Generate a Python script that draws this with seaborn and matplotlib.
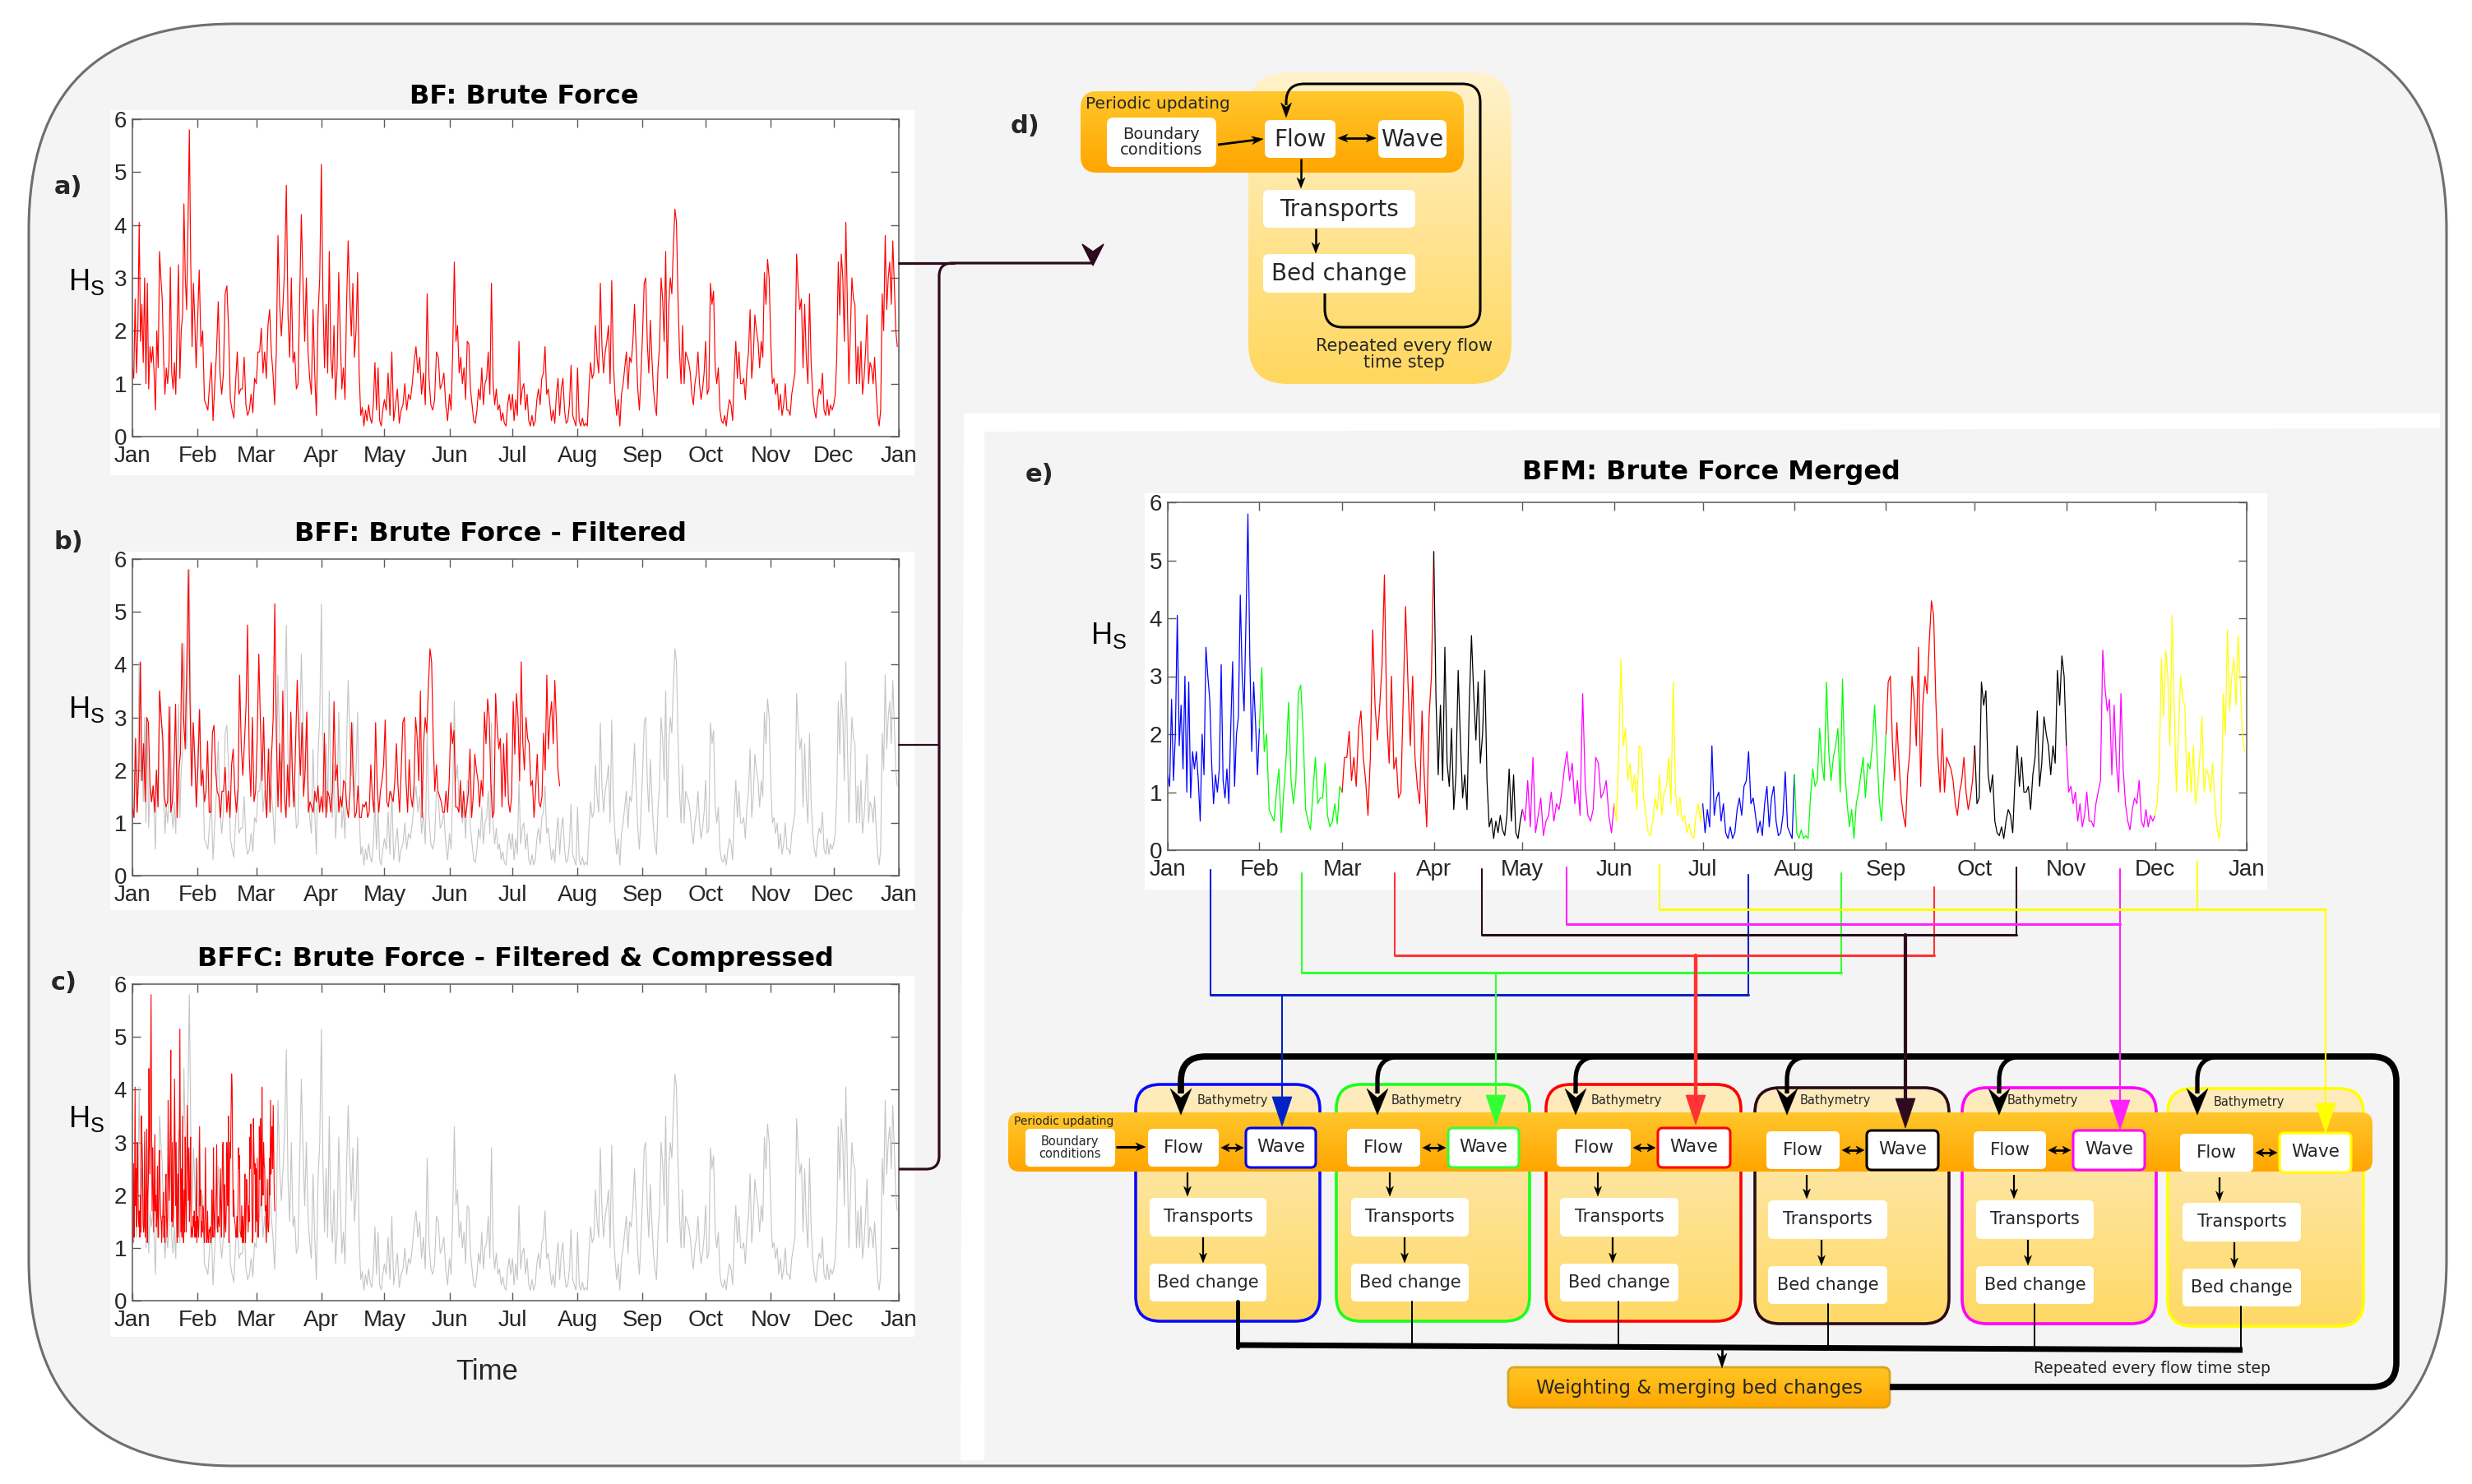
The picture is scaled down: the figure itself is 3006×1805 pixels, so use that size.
import numpy as np
import pandas as pd
import matplotlib
matplotlib.use("Agg")
import matplotlib.pyplot as plt
import seaborn as sns
from matplotlib.patches import FancyBboxPatch, Rectangle, Polygon, PathPatch
from matplotlib.path import Path
from matplotlib.colors import LinearSegmentedColormap
from matplotlib import font_manager

# ---------------- data ----------------
month_labels = ["Jan", "Feb", "Mar", "Apr", "May", "Jun", "Jul", "Aug", "Sep", "Oct", "Nov", "Dec", "Jan"]
month_start = [0, 31, 59, 90, 120, 151, 181, 212, 243, 273, 304, 334, 365]

hs_jan = [1.3, 1.1, 2.6, 1.2, 2.0, 4.05, 1.8, 2.5, 1.4, 3.0, 1.0, 2.9, 0.9, 1.7, 1.4, 1.7, 1.2, 0.5, 2.0, 1.3,
          3.5, 3.0, 2.6, 1.5, 0.8, 1.3, 1.0, 1.4, 3.2, 1.2, 0.9, 1.4, 0.8, 2.1, 3.25, 1.1, 2.0, 2.3, 4.4, 3.0,
          2.4, 4.0, 5.8, 3.3, 1.7, 2.9, 2.2, 1.3]
hs_feb = [2.1, 3.15, 1.7, 2.0, 0.7, 0.6, 0.5, 1.0, 1.4, 0.3, 1.0, 1.6, 2.55, 1.2, 0.8, 1.2, 2.7, 2.85, 2.0, 0.7,
          0.5, 0.35, 1.0, 1.6, 0.8, 0.9, 0.9, 1.5, 0.6, 0.4, 0.5, 0.8, 0.45, 1.1]
hs_mar = [1.0, 1.6, 1.6, 2.05, 1.2, 1.6, 1.1, 2.1, 2.4, 1.6, 1.2, 0.6, 1.6, 3.8, 2.5, 1.9, 2.5, 3.2, 4.75, 2.3,
          1.5, 3.0, 1.4, 1.6, 0.9, 1.0, 2.6, 4.2, 2.9, 1.8, 3.0, 1.6, 1.1, 0.8, 2.4, 1.2, 0.4, 2.3, 3.0]
hs_apr = [5.15, 2.6, 1.3, 2.5, 1.2, 3.5, 1.5, 1.1, 2.1, 0.7, 1.3, 3.1, 1.9, 0.9, 1.3, 0.7, 2.5, 3.7, 2.7, 1.9,
          2.9, 1.5, 2.0, 3.1, 1.2, 0.4, 0.55, 0.2, 0.5, 0.3, 0.6, 0.35, 0.25, 0.6, 1.4, 0.5, 1.3, 0.3, 0.2, 0.5]
hs_may = [0.7, 0.5, 1.2, 0.4, 1.6, 0.3, 0.6, 0.9, 0.25, 0.5, 0.6, 1.0, 0.5, 0.8, 0.7, 1.0, 1.4, 1.7, 1.2, 1.5,
          0.8, 1.2, 0.6, 2.7, 1.1, 0.6, 0.5, 0.7, 1.6, 1.5, 0.9, 1.0, 1.2, 0.6, 0.3]
hs_jun = [0.8, 0.5, 1.6, 3.3, 1.8, 2.1, 1.2, 1.5, 1.0, 1.3, 0.7, 1.8, 1.75, 0.9, 0.6, 0.3, 0.25, 0.5, 0.9, 0.7,
          1.3, 0.6, 1.0, 1.1, 1.6, 0.8, 2.9, 1.0, 0.6, 0.9, 0.5, 0.6, 0.3, 0.45, 0.25, 0.2, 0.6, 0.8, 0.5]
hs_jul = [0.8, 0.3, 0.7, 0.4, 1.8, 0.6, 0.9, 1.0, 0.5, 0.8, 0.3, 0.2, 0.4, 0.2, 0.3, 0.7, 0.9, 0.6, 1.1, 1.2,
          1.7, 0.8, 0.9, 0.6, 0.3, 0.5, 0.25, 0.8, 1.1, 0.4, 0.9, 1.1, 0.5, 0.25, 0.3, 0.6, 1.35, 0.4, 0.3, 0.2]
hs_aug = [1.3, 0.3, 0.2, 0.35, 0.2, 0.25, 0.2, 0.9, 1.4, 1.1, 1.2, 2.1, 1.5, 1.2, 2.9, 1.7, 1.2, 1.6, 1.8, 2.1,
          1.0, 2.95, 1.4, 0.8, 0.4, 0.7, 0.2, 0.8, 1.0, 1.3, 1.6, 0.9, 1.5, 1.4, 1.8, 2.5, 1.7, 0.9, 0.5, 1.2]
hs_sep = [2.0, 2.9, 3.0, 1.8, 1.2, 2.2, 1.5, 0.9, 0.6, 0.4, 1.3, 1.7, 3.0, 2.6, 1.8, 3.5, 1.1, 2.5, 3.0, 2.7,
          3.6, 4.3, 4.05, 2.6, 1.6, 1.0, 2.1, 1.0, 1.6, 1.5, 1.4, 1.2, 0.8, 0.6, 1.0, 1.2, 1.6, 1.0, 0.7, 0.9, 1.2]
hs_oct = [1.8, 0.8, 0.9, 2.9, 2.5, 2.75, 1.3, 1.0, 1.3, 0.5, 0.3, 0.25, 0.4, 0.2, 0.5, 0.7, 0.6, 0.3, 1.2, 1.8,
          1.1, 1.6, 1.0, 1.0, 1.1, 0.7, 1.3, 1.6, 2.4, 1.1, 1.5, 2.3, 2.0, 1.8, 1.3, 1.8, 1.5, 3.1, 2.5, 3.35, 3.0]
hs_nov = [1.8, 1.0, 1.1, 0.8, 1.0, 0.5, 0.8, 0.4, 0.6, 1.0, 0.5, 0.5, 0.4, 0.8, 1.0, 1.2, 3.45, 2.8, 2.4, 2.6,
          1.3, 2.5, 1.5, 1.0, 2.7, 1.4, 0.8, 0.5, 0.35, 0.7, 0.9, 0.8, 1.2, 0.5, 0.4, 0.7, 0.4, 0.6, 0.5]
hs_dec = [0.6, 0.8, 1.5, 3.3, 2.3, 3.45, 3.0, 1.8, 4.05, 2.5, 1.0, 2.0, 3.0, 2.6, 2.5, 1.0, 1.7, 1.0, 1.8, 0.8,
          1.1, 1.6, 2.3, 1.0, 1.4, 1.3, 1.0, 1.5, 0.9, 0.4, 0.2, 0.5, 2.7, 2.0, 3.8, 2.4, 3.0, 3.3, 2.5, 3.7,
          2.9, 2.0, 1.7]
hs_months = [hs_jan, hs_feb, hs_mar, hs_apr, hs_may, hs_jun, hs_jul, hs_aug, hs_sep, hs_oct, hs_nov, hs_dec]

merge_colors = ["#0000ff", "#00ff00", "#ff0000", "#000000", "#ff00ff", "#ffff00"]
connector_colors = ["#0022c8", "#33ff33", "#ff3333", "#2e0a1e", "#ff22ff", "#ffff00"]
box_colors = ["#0a0aff", "#1aff1a", "#ff0000", "#2a0a18", "#ff00ff", "#ffff00"]
wave_edge_colors = ["#0000ee", "#33ff33", "#ff0000", "#000000", "#ff00ff", "#ffff00"]
filter_threshold = 1.0
compression_factor = 3.0

titles = ["BF: Brute Force", "BFF: Brute Force - Filtered", "BFFC: Brute Force - Filtered & Compressed",
          "BFM: Brute Force Merged"]

# ---------------- derived series ----------------
t_all, v_all, m_all = [], [], []
for i, vals in enumerate(hs_months):
    d0, d1 = month_start[i], month_start[i + 1]
    n = len(vals)
    t_all += list(d0 + (d1 - d0) * np.arange(n) / n)
    v_all += list(vals)
    m_all += [i] * n
df = pd.DataFrame({"day": t_all, "hs": v_all, "month": m_all})
dt = 365.0 / len(df)
filt = df[df.hs > filter_threshold].reset_index(drop=True)
df_f = pd.DataFrame({"day": np.arange(len(filt)) * dt, "hs": filt.hs.values})
df_c = pd.DataFrame({"day": df_f.day / compression_factor, "hs": df_f.hs})

# ---------------- style / fonts ----------------
sns.set_theme(style="white")
avail = {f.name for f in font_manager.fontManager.ttflist}
if "Liberation Sans Narrow" in avail:
    TICKF, TICKSZ = "Liberation Sans Narrow", 23
else:
    TICKF, TICKSZ = "Liberation Sans", 20
plt.rcParams["font.family"] = ["DejaVu Sans"]

W, H = 3006, 1805
fig = plt.figure(figsize=(W / 100, H / 100), dpi=100, facecolor="white")


def pix_axes(z):
    ax = fig.add_axes([0, 0, 1, 1], zorder=z)
    ax.set_xlim(0, W)
    ax.set_ylim(H, 0)
    ax.axis("off")
    return ax


bg = pix_axes(0)
fg = pix_axes(10)


def prect(x0, y0, x1, y1):
    return [x0 / W, 1 - y1 / H, (x1 - x0) / W, (y1 - y0) / H]


def rbox(ax, x0, y0, x1, y1, r, fc="white", ec="none", lw=0, z=3):
    p = FancyBboxPatch((x0, y0), x1 - x0, y1 - y0, boxstyle=f"round,pad=0,rounding_size={r}",
                       facecolor=fc, edgecolor=ec, lw=lw, zorder=z)
    ax.add_patch(p)
    return p


def gbox(ax, x0, y0, x1, y1, r, ctop, cbot, ec="none", lw=0, z=3):
    clip = FancyBboxPatch((x0, y0), x1 - x0, y1 - y0, boxstyle=f"round,pad=0,rounding_size={r}",
                          facecolor="none", edgecolor="none", lw=0, zorder=z)
    ax.add_patch(clip)
    cmap = LinearSegmentedColormap.from_list("g", [ctop, cbot])
    grad = np.linspace(0, 1, 128)[:, None]
    im = ax.imshow(grad, extent=(x0, x1, y1, y0), origin="upper", cmap=cmap, aspect="auto",
                   zorder=z, interpolation="bilinear")
    im.set_clip_path(clip)
    if ec != "none":
        rbox(ax, x0, y0, x1, y1, r, fc="none", ec=ec, lw=lw, z=z + 0.05)


def rpath(pts, r):
    verts = [pts[0]]
    codes = [Path.MOVETO]
    for i in range(1, len(pts) - 1):
        p0, p1, p2 = (np.array(pts[i - 1], float), np.array(pts[i], float), np.array(pts[i + 1], float))
        d1 = (p1 - p0) / np.linalg.norm(p1 - p0)
        d2 = (p2 - p1) / np.linalg.norm(p2 - p1)
        a = p1 - d1 * r
        b = p1 + d2 * r
        verts += [tuple(a), tuple(p1), tuple(b)]
        codes += [Path.LINETO, Path.CURVE3, Path.CURVE3]
    verts.append(pts[-1])
    codes.append(Path.LINETO)
    return Path(verts, codes)


def rline(ax, pts, r, color, lw, z=6):
    ax.add_patch(PathPatch(rpath(pts, r), fill=False, edgecolor=color, lw=lw, capstyle="butt",
                           joinstyle="round", zorder=z))


def stealth(ax, tip, d, L, Wd, color, z=8, notch=0.3):
    tip = np.array(tip, float)
    d = np.array(d, float)
    d = d / np.linalg.norm(d)
    n = np.array([-d[1], d[0]])
    base = tip - d * L
    pts = [tip, base + n * Wd / 2, base + d * L * notch, base - n * Wd / 2]
    ax.add_patch(Polygon(pts, closed=True, fc=color, ec=color, lw=0.3, zorder=z))


def arrow(ax, p0, p1, lw=1.6, hl=13, hw=10, color="black", z=8, both=False):
    p0 = np.array(p0, float)
    p1 = np.array(p1, float)
    d = (p1 - p0) / np.linalg.norm(p1 - p0)
    a = p0 + (d * hl * 0.7 if both else 0)
    b = p1 - d * hl * 0.7
    ax.plot([a[0], b[0]], [a[1], b[1]], color=color, lw=lw, solid_capstyle="butt", zorder=z)
    stealth(ax, p1, d, hl, hw, color, z)
    if both:
        stealth(ax, p0, -d, hl, hw, color, z)


# ---------------- background ----------------
rbox(bg, 35, 29, 2975, 1783, 250, fc="#f4f4f4", ec="#6e6e6e", lw=2.2, z=1)
# white frame of panel e
bg.add_patch(Polygon([(1172, 503), (2967, 503), (2967, 521), (1197, 525), (1197, 1776), (1168, 1776)],
                     closed=True, fc="white", ec="none", zorder=2))
for (x0, y0, x1, y1) in [(134, 134, 1112, 578), (134, 671, 1112, 1107), (134, 1187, 1112, 1626),
                         (1392, 600, 2757, 1082)]:
    bg.add_patch(Rectangle((x0, y0), x1 - x0, y1 - y0, fc="white", ec="none", zorder=3))


# ---------------- time series panels ----------------
def style_hs_axes(ax):
    ax.set_xlim(0, 365)
    ax.set_ylim(0, 6)
    ax.set_xticks(month_start)
    ax.set_xticklabels(month_labels)
    ax.set_yticks(range(7))
    ax.set_xlabel("")
    ax.set_ylabel("")
    ax.tick_params(axis="both", direction="in", length=7, width=1, color="#5a5a5a",
                   labelcolor="#262626", labelsize=TICKSZ, top=True, right=True, bottom=True, left=True)
    ax.tick_params(axis="x", pad=8)
    ax.tick_params(axis="y", pad=5)
    for lab in ax.get_xticklabels() + ax.get_yticklabels():
        lab.set_fontfamily(TICKF)
    for s in ax.spines.values():
        s.set_visible(True)
        s.set_color("#5a5a5a")
        s.set_linewidth(1.1)
    ax.set_facecolor("white")
    ax.grid(False)


ax_a = fig.add_axes(prect(161, 145, 1093, 531), zorder=2)
sns.lineplot(data=df, x="day", y="hs", ax=ax_a, color="#ff0000", lw=0.85, estimator=None, sort=False, legend=False)
style_hs_axes(ax_a)

ax_b = fig.add_axes(prect(161, 680, 1093, 1065), zorder=2)
sns.lineplot(data=df, x="day", y="hs", ax=ax_b, color="#c4c4c4", lw=0.8, estimator=None, sort=False, legend=False)
sns.lineplot(data=df_f, x="day", y="hs", ax=ax_b, color="#ff0000", lw=0.85, estimator=None, sort=False, legend=False)
style_hs_axes(ax_b)

ax_c = fig.add_axes(prect(161, 1197, 1093, 1582), zorder=2)
sns.lineplot(data=df, x="day", y="hs", ax=ax_c, color="#c4c4c4", lw=0.8, estimator=None, sort=False, legend=False)
sns.lineplot(data=df_c, x="day", y="hs", ax=ax_c, color="#ff0000", lw=0.8, estimator=None, sort=False, legend=False)
style_hs_axes(ax_c)

ax_e = fig.add_axes(prect(1420, 611, 2732, 1034), zorder=2)
for i in range(12):
    idx = list(np.where(df.month.values == i)[0])
    if i < 11:
        idx.append(idx[-1] + 1)
    seg = df.iloc[idx]
    sns.lineplot(data=seg, x="day", y="hs", ax=ax_e, color=merge_colors[i % 6], lw=0.9,
                 estimator=None, sort=False, legend=False)
style_hs_axes(ax_e)

# ---------------- panel texts ----------------
TF = dict(fontfamily="DejaVu Sans", fontweight="bold", fontsize=23, ha="center", va="center", color="black", zorder=20)
fg.text(637, 117, titles[0], **TF)
fg.text(597, 649, titles[1], **TF)
fg.text(627, 1166, titles[2], **TF)
fg.text(2081, 574, titles[3], **TF)
LF = dict(fontfamily="DejaVu Sans", fontweight="bold", fontsize=22, ha="center", va="center", zorder=20)
fg.text(83, 227, "a)", **LF)
fg.text(83, 660, "b)", **LF)
fg.text(78, 1196, "c)", **LF)
fg.text(1247, 153, "d)", **LF)
fg.text(1264, 577, "e)", **LF)
HF = dict(fontfamily=TICKF, fontsize=26, ha="center", va="center", color="black", zorder=20)
for (x, y) in [(105, 343), (105, 863), (105, 1361), (1348, 773)]:
    fg.text(x, y, r"$\mathregular{H_S}$", **HF)
fg.text(592, 1668, "Time", fontfamily=TICKF, fontsize=25, ha="center", va="center", zorder=20)

# ---------------- arrows from a, b, c to d ----------------
DK = "#2e0a1e"
rline(fg, [(1093, 1422), (1142, 1422), (1142, 320), (1330, 320)], 16, DK, 2.3)
fg.plot([1093, 1160], [320, 320], color=DK, lw=2.3, zorder=6)
fg.plot([1093, 1142], [906, 906], color=DK, lw=1.6, zorder=6)
fg.add_patch(Polygon([(1316, 297), (1329, 306), (1342, 297), (1329, 323)], closed=True, fc=DK, ec=DK, zorder=7))

# ---------------- panel d diagram ----------------
gbox(fg, 1518, 88, 1838, 467, 48, "#fff2cc", "#ffd75e", z=3)
gbox(fg, 1314, 111, 1780, 210, 20, "#ffc72c", "#ffa500", z=4)
fg.text(1320, 126, "Periodic updating", fontsize=14.5, ha="left", va="center", zorder=9)
rbox(fg, 1346, 143, 1479, 203, 8, z=5)
fg.text(1412, 173, "Boundary\nconditions", fontsize=14, ha="center", va="center", linespacing=1.05, zorder=9)
rbox(fg, 1538, 146, 1624, 192, 7, z=5)
fg.text(1581, 170, "Flow", fontsize=20, ha="center", va="center", zorder=9)
rbox(fg, 1676, 146, 1759, 192, 7, z=5)
fg.text(1717, 170, "Wave", fontsize=20, ha="center", va="center", zorder=9)
rbox(fg, 1536, 231, 1721, 277, 7, z=5)
fg.text(1628, 255, "Transports", fontsize=20, ha="center", va="center", zorder=9)
rbox(fg, 1536, 309, 1721, 356, 7, z=5)
fg.text(1628, 333, "Bed change", fontsize=20, ha="center", va="center", zorder=9)
arrow(fg, (1481, 176), (1536, 169), lw=2.0, hl=14, hw=10)
arrow(fg, (1627, 168), (1673, 168), lw=2.0, hl=12, hw=10, both=True)
arrow(fg, (1582, 193), (1582, 229), lw=1.8, hl=13, hw=10)
arrow(fg, (1600, 278), (1600, 308), lw=1.8, hl=13, hw=10)
rline(fg, [(1611, 357), (1611, 398), (1800, 398), (1800, 102), (1564, 102), (1564, 128)], 22, "black", 2.2, z=8)
stealth(fg, (1564, 143), (0, 1), 18, 13, "black")
fg.text(1707, 431, "Repeated every flow\ntime step", fontsize=15, ha="center", va="center", linespacing=1.05, zorder=9)

# ---------------- panel e diagram ----------------
box_x0 = [1381, 1625, 1880, 2134, 2386, 2636]
box_x1 = [1605, 1860, 2117, 2370, 2622, 2874]
box_y0 = [1319, 1319, 1319, 1323, 1323, 1324]
box_y1 = [1607, 1607, 1607, 1610, 1610, 1613]
row_dy = [0, 0, 0, 3, 3, 6]
flow_x = [(1396, 1482), (1638, 1727), (1893, 1983), (2148, 2237), (2400, 2488), (2651, 2740)]
wave_x = [(1515, 1600), (1761, 1847), (2016, 2104), (2270, 2357), (2521, 2608), (2772, 2859)]
tr_x = [(1398, 1540), (1643, 1786), (1897, 2041), (2150, 2295), (2403, 2546), (2654, 2798)]
a1_x = [1444, 1690, 1943, 2197, 2449, 2699]
a2_x = [1463, 1708, 1961, 2215, 2466, 2717]
bath_x = [1499, 1735, 1978, 2232, 2484, 2735]
black_x = [1436, 1675, 1916, 2173, 2431, 2672]
bed_drop_x = [1505, 1717, 1968, 2223, 2474, 2725]

for k in range(6):
    gbox(fg, box_x0[k], box_y0[k], box_x1[k], box_y1[k], 30, "#fdecc0", "#ffd966",
         ec=box_colors[k], lw=2.6, z=3)
    fg.text(bath_x[k], 1338 + row_dy[k] // 2, "Bathymetry", fontsize=10.5, ha="center", va="center", zorder=9)
gbox(fg, 1226, 1353, 2885, 1425, 14, "#ffc72c", "#ffa500", z=4)
fg.text(1233, 1364, "Periodic updating", fontsize=10, ha="left", va="center", zorder=9)
rbox(fg, 1247, 1373, 1356, 1419, 6, z=5)
fg.text(1301, 1396, "Boundary\nconditions", fontsize=10.5, ha="center", va="center", linespacing=1.0, zorder=9)
arrow(fg, (1357, 1395), (1393, 1395), lw=2.2, hl=12, hw=10)

for k in range(6):
    dy = row_dy[k]
    fx0, fx1 = flow_x[k]
    wx0, wx1 = wave_x[k]
    rbox(fg, fx0, 1373 + dy, fx1, 1419 + dy, 6, z=5)
    fg.text((fx0 + fx1) / 2, 1396 + dy, "Flow", fontsize=15.5, ha="center", va="center", zorder=9)
    rbox(fg, wx0, 1372 + dy, wx1, 1420 + dy, 6, ec=wave_edge_colors[k], lw=2.2, z=5)
    fg.text((wx0 + wx1) / 2, 1395 + dy, "Wave", fontsize=15.5, ha="center", va="center", zorder=9)
    arrow(fg, (fx1 + 3, 1396 + dy), (wx0 - 3, 1396 + dy), lw=2.0, hl=10, hw=10, both=True)
    tx0, tx1 = tr_x[k]
    rbox(fg, tx0, 1457 + dy, tx1, 1504 + dy, 6, z=5)
    fg.text((tx0 + tx1) / 2, 1480 + dy, "Transports", fontsize=15, ha="center", va="center", zorder=9)
    rbox(fg, tx0, 1537 + dy, tx1, 1583 + dy, 6, z=5)
    fg.text((tx0 + tx1) / 2, 1560 + dy, "Bed change", fontsize=15, ha="center", va="center", zorder=9)
    arrow(fg, (a1_x[k], 1426 + dy), (a1_x[k], 1455 + dy), lw=1.6, hl=12, hw=9)
    arrow(fg, (a2_x[k], 1505 + dy), (a2_x[k], 1536 + dy), lw=1.6, hl=12, hw=9)
    fg.plot([bed_drop_x[k]] * 2, [1583 + dy, 1639], color="black", lw=3.5 if k == 0 else 1.4, zorder=6)

# big feedback loop
rline(fg, [(2298, 1687), (2914, 1687), (2914, 1285), (1436, 1285), (1436, 1330)], 30, "black", 5.5, z=6)
for x in black_x[1:]:
    rline(fg, [(x + 45, 1285), (x, 1285), (x, 1330)], 28, "black", 3.8, z=6)
for x in black_x:
    stealth(fg, (x, 1356), (0, 1), 32, 26, "black", notch=0.35)
# collector
fg.plot([1503, 2727], [1636, 1642], color="black", lw=5.0, solid_capstyle="butt", zorder=6)
arrow(fg, (2094, 1641), (2094, 1664), lw=2.0, hl=18, hw=12)
gbox(fg, 1834, 1663, 2298, 1712, 8, "#ffc825", "#ffa500", ec="#d9a520", lw=2.0, z=5)
fg.text(2066, 1688, "Weighting & merging bed changes", fontsize=16.5, ha="center", va="center", zorder=9)
fg.text(2617, 1665, "Repeated every flow time step", fontsize=13.5, ha="center", va="center", zorder=9)

# colored connectors from the merged series to the six runs
conn_left_x = [1472, 1583, 1696, 1802, 1905, 2018]
conn_right_x = [2126, 2239, 2352, 2452, 2578, 2672]
conn_top_left = [1058, 1062, 1062, 1057, 1055, 1052]
conn_top_right = [1064, 1062, 1079, 1055, 1057, 1048]
conn_y = [1210, 1183, 1162, 1137, 1124, 1106]
conn_drop_x = [1559, 1819, 2062, 2317, 2578, 2828]
conn_tip_y = [1370, 1368, 1368, 1372, 1374, 1378]
conn_lw = [1.5, 1.5, 3.2, 3.0, 1.5, 1.5]
for k in range(6):
    c = connector_colors[k]
    fg.plot([conn_left_x[k]] * 2, [conn_top_left[k], conn_y[k]], color=c, lw=1.5, zorder=6)
    fg.plot([conn_right_x[k]] * 2, [conn_top_right[k], conn_y[k]], color=c, lw=1.5, zorder=6)
    xr = max(conn_right_x[k], conn_drop_x[k])
    fg.plot([conn_left_x[k], xr], [conn_y[k], conn_y[k]], color=c, lw=2.2, zorder=6)
    fg.plot([conn_drop_x[k]] * 2, [conn_y[k], conn_tip_y[k] - 30], color=c, lw=conn_lw[k], zorder=6)
    x = conn_drop_x[k]
    fg.add_patch(Polygon([(x - 12, conn_tip_y[k] - 36), (x + 12, conn_tip_y[k] - 36), (x, conn_tip_y[k])],
                         closed=True, fc=c, ec=c, lw=0.5, zorder=7))

for ax in (bg, fg):
    ax.set_xlim(0, W)
    ax.set_ylim(H, 0)

fig.savefig("out.png", dpi=100, facecolor="white")
